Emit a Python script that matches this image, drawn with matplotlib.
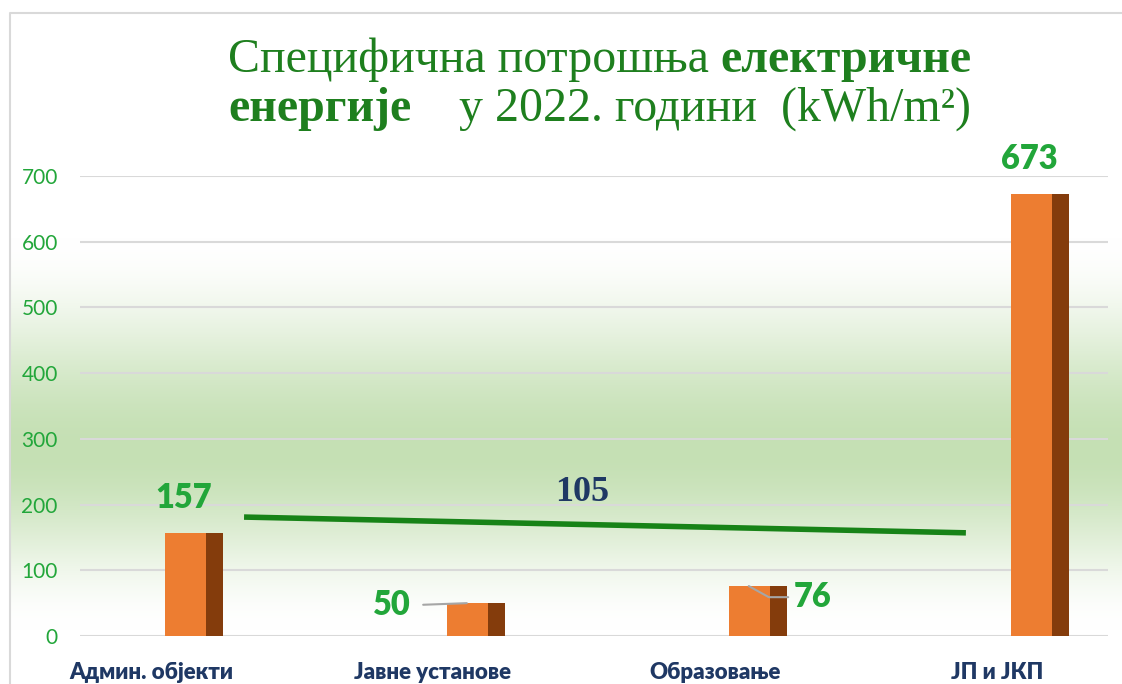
import matplotlib.pyplot as plt
import numpy as np

# data
categories = ["Админ. објекти", "Јавне установе", "Образовање", "ЈП и ЈКП"]
values = [157, 50, 76, 673]
yticks = [0, 100, 200, 300, 400, 500, 600, 700]
avg_label = "105"
avg_line_x = [0.33, 2.89]
avg_line_y = [181, 157]

title_1 = [("Специфична потрошња ", "normal"), ("електричне", "bold")]
title_2 = [("енергије", "bold"), ("    у 2022. години  (kWh/m²)", "normal")]

W, H = 1122, 684
green_txt = "#22a63a"
navy = "#1f3864"
title_col = "#1e7f1e"
orange = "#ed7d31"
brown = "#843c0c"

fig = plt.figure(figsize=(W / 100, H / 100), dpi=100)

# background: soft green band behind the plot
bg = fig.add_axes([0, 0, 1, 1], zorder=0)
rows = np.arange(H)
t = np.interp(rows, [0, 237, 450, 630, H], [0, 0, 1, 0, 0])
t = t * t * (3 - 2 * t)
white = np.array([1.0, 1.0, 1.0])
band = np.array([0xc5, 0xe0, 0xb4]) / 255
img = white[None, :] * (1 - t[:, None]) + band[None, :] * t[:, None]
img = np.repeat(img[:, None, :], 2, axis=1)
bg.imshow(img, extent=[10, W, H, 0], aspect="auto")
bg.plot([10, 10, W], [H, 13, 13], color="#d9d9d9", lw=1.5)
bg.set_xlim(0, W)
bg.set_ylim(H, 0)
bg.axis("off")

# main chart
ax = fig.add_axes([80 / W, (H - 636) / H, (1108 - 80) / W, (636 - 176) / H], zorder=1)
ax.patch.set_alpha(0)
x = np.arange(len(categories))
ax.bar(x + 0.05, values, width=0.145, align="edge", color=orange, zorder=2)
ax.bar(x + 0.195, values, width=0.06, align="edge", color=brown, zorder=2)

ax.set_xlim(-0.2518, 3.394)
ax.set_ylim(0, 700)
ax.set_yticks(yticks)
ax.yaxis.grid(True, color="#d9d9d9", lw=1.5)
ax.set_axisbelow(True)
for s in ax.spines.values():
    s.set_visible(False)
ax.tick_params(axis="y", length=0, pad=16, labelcolor=green_txt, labelsize=15)
for lab in ax.get_yticklabels():
    lab.set_family("Lato")
ax.set_xticks(x, categories)
ax.tick_params(axis="x", length=0, pad=19)
for lab in ax.get_xticklabels():
    lab.set_family("Lato")
    lab.set_fontweight("heavy")
    lab.set_fontsize(16)
    lab.set_color(navy)

# average line
ax.plot(avg_line_x, avg_line_y, color="#178317", lw=4, solid_capstyle="butt", zorder=3)
ax.text(1.53, 218, avg_label, family="Liberation Serif", weight="bold", size=26,
        color=navy, ha="center", va="center")

# value labels
lab_kw = dict(family="Lato", weight="heavy", size=23.5, color=green_txt,
              ha="center", va="center", textcoords="offset points", annotation_clip=False)
for i in (0, 3):
    ax.annotate(str(values[i]), xy=(x[i] + 0.15, values[i]), xytext=(-7, 25), **lab_kw)
ax.annotate(str(values[1]), xy=(x[1] + 0.12, values[1]), xytext=(-54, -1.5),
            arrowprops=dict(arrowstyle="-", color="#a6a6a6", lw=1.5, shrinkA=7, shrinkB=0,
                            relpos=(1, 0.5)), **lab_kw)
ax.annotate(str(values[2]), xy=(x[2] + 0.12, values[2]), xytext=(46, -8),
            arrowprops=dict(arrowstyle="-", color="#a6a6a6", lw=1.5, shrinkA=2, shrinkB=0,
                            relpos=(0, 0.5), connectionstyle="angle,angleA=0,angleB=-29,rad=0"),
            **lab_kw)

# title with mixed weights
def title_line(xpix, ypix, parts):
    prev = fig.text(xpix / W, 1 - ypix / H, parts[0][0], family="Liberation Serif",
                    weight=parts[0][1], size=34.5, color=title_col, va="baseline")
    for txt, w in parts[1:]:
        prev = ax.annotate(txt, xy=(1, 0), xycoords=prev, va="bottom", ha="left",
                           family="Liberation Serif", weight=w, size=34.5, color=title_col,
                           annotation_clip=False)

title_line(228, 72, title_1)
title_line(228, 121, title_2)

fig.savefig("out.png", dpi=100)
